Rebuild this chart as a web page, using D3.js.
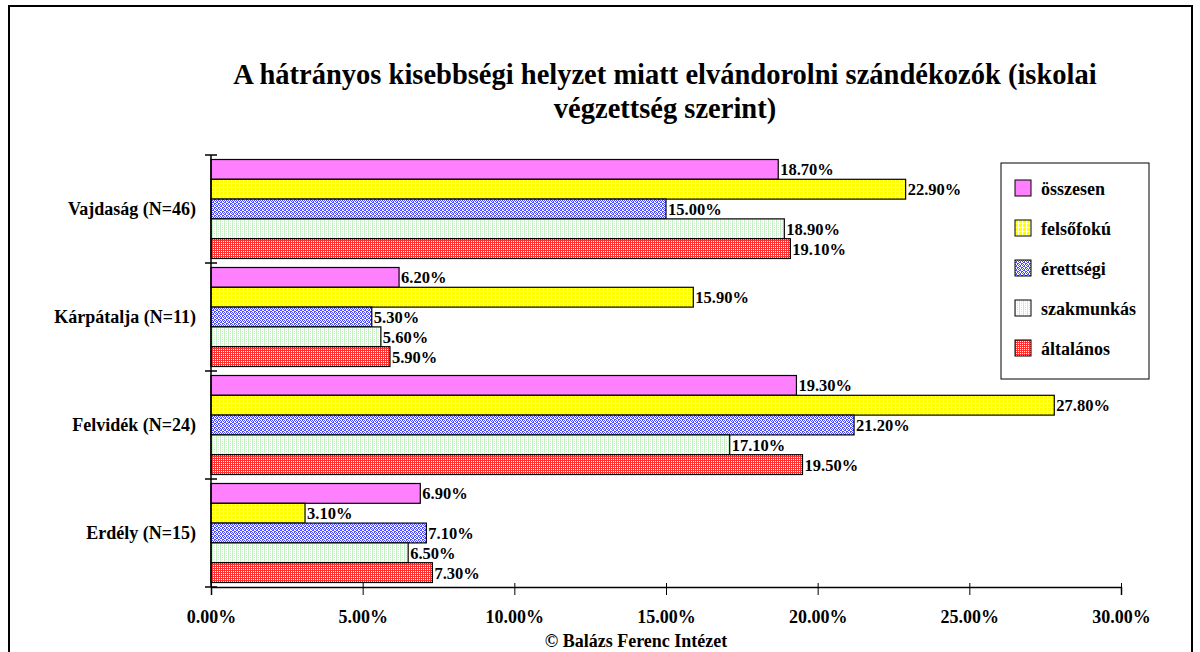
<!DOCTYPE html>
<html>
  <head>
    <meta charset="UTF-8" />
    <title>Elvándorolni szándékozók</title>
    <script src="https://d3js.org/d3.v7.min.js"></script>
    <style>
      body {
        margin: 0;
        background: #fff;
      }
      svg text {
        font-family: 'Liberation Serif', 'Times New Roman', serif;
        font-weight: bold;
        fill: #000;
      }
    </style>
  </head>
  <body>
    <div id="viz"></div>
    <script>
      // regions, top to bottom
      const regions = [
        'Vajdaság (N=46)',
        'Kárpátalja (N=11)',
        'Felvidék (N=24)',
        'Erdély (N=15)',
      ];
      // series, same order as bars inside a group and in the legend
      const series = [
        'összesen',
        'felsőfokú',
        'érettségi',
        'szakmunkás',
        'általános',
      ];
      const osszesen = [18.7, 6.2, 19.3, 6.9];
      const felsofoku = [22.9, 15.9, 27.8, 3.1];
      const erettsegi = [15.0, 5.3, 21.2, 7.1];
      const szakmunkas = [18.9, 5.6, 17.1, 6.5];
      const altalanos = [19.1, 5.9, 19.5, 7.3];
      const xTicks = [0, 5, 10, 15, 20, 25, 30];

      const seriesValues = [
        osszesen,
        felsofoku,
        erettsegi,
        szakmunkas,
        altalanos,
      ];

      const FONT = "'Liberation Serif', 'Times New Roman', serif";
      const W = 1200,
        H = 652;
      const margin = { left: 211, right: 79, top: 155, bottom: 65 };

      const svg = d3
        .select('#viz')
        .append('svg')
        .attr('width', W)
        .attr('height', H);

      // patterns (rough imitation of the old Excel fills)
      const defs = svg.append('defs');
      const tile = (id, bg) => {
        const p = defs
          .append('pattern')
          .attr('id', id)
          .attr('patternUnits', 'userSpaceOnUse')
          .attr('width', 4)
          .attr('height', 4);
        p.append('rect')
          .attr('width', 4)
          .attr('height', 4)
          .attr('fill', bg);
        return p;
      };
      const px = (p, pts, c) =>
        pts.forEach(([x, y]) =>
          p.append('rect')
            .attr('x', x)
            .attr('y', y)
            .attr('width', 1)
            .attr('height', 1)
            .attr('fill', c)
        );

      tile('pPink', '#ff80ff');

      const yel = tile('pYellow', '#ffff00');
      yel.append('rect').attr('x', 3).attr('width', 1).attr('height', 4).attr('fill', '#fff');
      yel.append('rect').attr('y', 3).attr('width', 4).attr('height', 1).attr('fill', '#fff');

      const blu = tile('pBlue', '#ffffff');
      px(
        blu,
        [[0, 0], [2, 0], [1, 1], [3, 1], [0, 2], [1, 2], [2, 3], [3, 3]],
        '#4848ff'
      );

      const grn = tile('pGreen', '#ffffff');
      px(grn, [[0, 0], [0, 1], [0, 2], [2, 1], [2, 3], [0, 3]], '#bff5bf');

      const red = tile('pRed', '#ff3030');
      px(red, [[1, 1], [3, 3], [1, 3], [3, 1]], '#ffffff');

      const fills = ['url(#pPink)', 'url(#pYellow)', 'url(#pBlue)', 'url(#pGreen)', 'url(#pRed)'];

      // outer frame
      svg.append('rect')
        .attr('x', 9)
        .attr('y', 6)
        .attr('width', 1183)
        .attr('height', 660)
        .attr('fill', 'none')
        .attr('stroke', '#000')
        .attr('stroke-width', 2);

      // title
      const title = svg.append('text')
        .attr('text-anchor', 'middle')
        .style('font-family', FONT)
        .style('font-size', '28.5px');
      title.append('tspan')
        .attr('x', 665)
        .attr('y', 84)
        .text('A hátrányos kisebbségi helyzet miatt elvándorolni szándékozók (iskolai');
      title.append('tspan')
        .attr('x', 665)
        .attr('y', 118)
        .text('végzettség szerint)');

      // scales
      const x = d3
        .scaleLinear()
        .domain([0, 30])
        .range([margin.left, 1121]);
      const y = d3
        .scaleBand()
        .domain(regions)
        .range([margin.top, 587])
        .padding(0);
      const ys = d3
        .scaleBand()
        .domain(series)
        .range([4.5, y.bandwidth() - 4.5])
        .padding(0);

      // bars
      const rows = [];
      regions.forEach((r, i) =>
        series.forEach((s, j) =>
          rows.push({ region: r, s: s, j: j, v: seriesValues[j][i] })
        )
      );

      const bars = svg.append('g');
      bars.selectAll('rect')
        .data(rows)
        .join('rect')
        .attr('x', x(0))
        .attr('y', (d) => y(d.region) + ys(d.s))
        .attr('width', (d) => x(d.v) - x(0))
        .attr('height', ys.bandwidth())
        .attr('fill', (d) => fills[d.j])
        .attr('stroke', '#000')
        .attr('stroke-width', 1.2);

      bars.selectAll('text')
        .data(rows)
        .join('text')
        .attr('x', (d) => x(d.v) + 2)
        .attr('y', (d) => y(d.region) + ys(d.s) + ys.bandwidth() / 2 + 6)
        .style('font-family', FONT)
        .style('font-size', '16.5px')
        .text((d) => d.v.toFixed(2) + '%');

      // y axis: line, boundary ticks, labels
      const yAxis = svg.append('g');
      yAxis.append('line')
        .attr('x1', x(0))
        .attr('x2', x(0))
        .attr('y1', y.range()[0])
        .attr('y2', y.range()[1])
        .attr('stroke', '#000')
        .attr('stroke-width', 1.5);
      const bounds = regions.map((r) => y(r)).concat([y.range()[1]]);
      yAxis.selectAll('.tk')
        .data(bounds)
        .join('line')
        .attr('class', 'tk')
        .attr('x1', x(0) - 6)
        .attr('x2', x(0) + 6)
        .attr('y1', (d) => d)
        .attr('y2', (d) => d)
        .attr('stroke', '#000')
        .attr('stroke-width', 1.5);
      yAxis.selectAll('.lab')
        .data(regions)
        .join('text')
        .attr('class', 'lab')
        .attr('x', 196)
        .attr('y', (d) => y(d) + y.bandwidth() / 2 + 6)
        .attr('text-anchor', 'end')
        .style('font-family', FONT)
        .style('font-size', '18px')
        .text((d) => d);

      // x axis
      const xAxis = svg.append('g')
        .attr('transform', `translate(0,${y.range()[1]})`)
        .call(
          d3.axisBottom(x)
            .tickValues(xTicks)
            .tickFormat((d) => d.toFixed(2) + '%')
            .tickSize(8)
            .tickPadding(15)
        );
      xAxis.select('.domain').attr('stroke', '#000').attr('stroke-width', 1.5);
      xAxis.selectAll('.tick line').attr('y1', -4).attr('stroke', '#000');
      xAxis.selectAll('.tick text')
        .style('font-size', '18px')
        .style('font-family', FONT)
        .style('font-weight', 'bold')
        .attr('fill', '#000');

      // footer
      svg.append('text')
        .attr('x', 636)
        .attr('y', 647)
        .attr('text-anchor', 'middle')
        .style('font-family', FONT)
        .style('font-size', '18px')
        .text('© Balázs Ferenc Intézet');

      // legend
      const lg = svg.append('g').attr('transform', 'translate(1001,163)');
      lg.append('rect')
        .attr('width', 148)
        .attr('height', 216)
        .attr('fill', '#fff')
        .attr('stroke', '#000')
        .attr('stroke-width', 1);
      const item = lg.selectAll('.item')
        .data(series)
        .join('g')
        .attr('class', 'item')
        .attr('transform', (d, i) => `translate(14,${17 + i * 40})`);
      item.append('rect')
        .attr('width', 16)
        .attr('height', 16)
        .attr('fill', (d, i) => fills[i])
        .attr('stroke', '#000');
      item.append('text')
        .attr('x', 26)
        .attr('y', 15)
        .style('font-family', FONT)
        .style('font-size', '18px')
        .text((d) => d);
    </script>
  </body>
</html>
